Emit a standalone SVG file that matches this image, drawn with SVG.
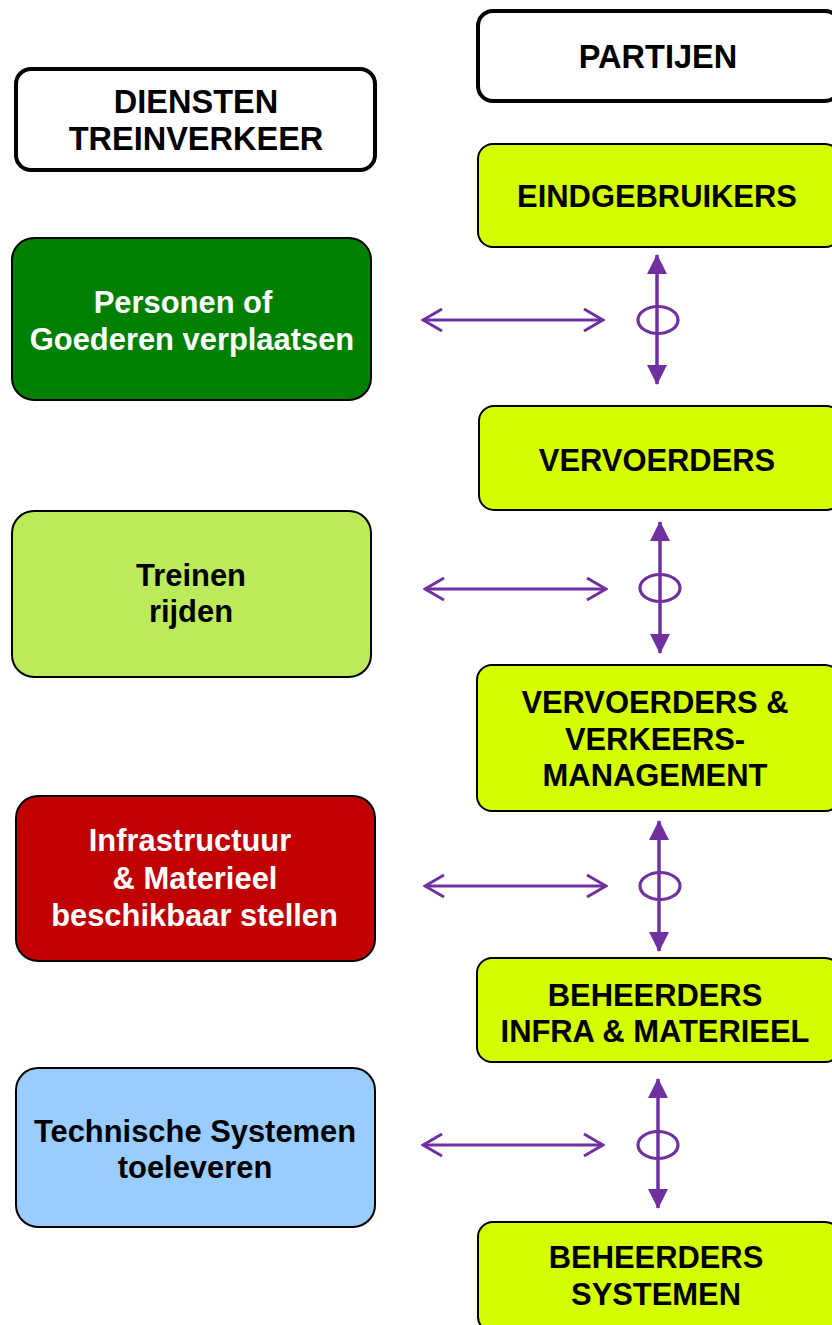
<svg xmlns="http://www.w3.org/2000/svg" width="832" height="1325" viewBox="0 0 832 1325">
<style>
.t{font-family:"Liberation Sans",Arial,sans-serif;font-weight:bold;font-size:30.9px;text-anchor:middle}
.t.big{font-size:32.5px}
.hdr{fill:#fff;stroke:#000;stroke-width:4}
.p{fill:#d4ff00;stroke:#000;stroke-width:2}
.d{stroke:#000;stroke-width:2}
.h{stroke:#7030a0;stroke-width:3;fill:none}
.v{stroke:#7030a0;stroke-width:3.5;fill:none}
.e{stroke:#7030a0;stroke-width:3.2;fill:none}
</style>
<defs>
<marker id="open" viewBox="0 0 22 26" refX="20" refY="13" markerWidth="22" markerHeight="26" markerUnits="userSpaceOnUse" orient="auto-start-reverse">
<path d="M1,2 L20,13 L1,24" fill="none" stroke="#7030a0" stroke-width="3"/>
</marker>
<marker id="tri" viewBox="0 0 20 20" refX="19" refY="10" markerWidth="20" markerHeight="20" markerUnits="userSpaceOnUse" orient="auto-start-reverse">
<path d="M0,0 L20,10 L0,20 Z" fill="#7030a0"/>
</marker>
</defs>
<g id="hdr-diensten"><rect class="hdr" x="16" y="69" width="359" height="101" rx="15"/><text class="t big" x="196" y="113">DIENSTEN</text><text class="t big" x="196" y="150">TREINVERKEER</text></g>
<g id="hdr-partijen"><rect class="hdr" x="478" y="11" width="362" height="90" rx="15"/><text class="t big" x="658" y="68">PARTIJEN</text></g>
<g id="eindgebruikers"><rect class="p" x="478" y="144" width="362" height="103" rx="15"/><text class="t" x="657" y="207">EINDGEBRUIKERS</text></g>
<g id="personen"><rect class="d" fill="#007f00" x="12" y="238" width="359" height="162" rx="22"/><text class="t" fill="#fff" x="183" y="313">Personen of</text><text class="t" fill="#fff" x="192" y="350">Goederen verplaatsen</text></g>
<g id="vervoerders"><rect class="p" x="479" y="406" width="362" height="104" rx="15"/><text class="t" x="657" y="471">VERVOERDERS</text></g>
<g id="treinen"><rect class="d" fill="#bbeb5b" x="12" y="511" width="359" height="166" rx="22"/><text class="t" x="191" y="586">Treinen</text><text class="t" x="191" y="622">rijden</text></g>
<g id="vervoerders-verkeer"><rect class="p" x="477" y="665" width="363" height="146" rx="15"/><text class="t" x="655" y="713">VERVOERDERS &amp;</text><text class="t" x="655" y="750">VERKEERS-</text><text class="t" x="655" y="786">MANAGEMENT</text></g>
<g id="infra"><rect class="d" fill="#c00000" x="16" y="796" width="359" height="165" rx="22"/><text class="t" fill="#fff" x="190" y="851">Infrastructuur</text><text class="t" fill="#fff" x="195" y="889">&amp; Materieel</text><text class="t" fill="#fff" x="194.5" y="926">beschikbaar stellen</text></g>
<g id="beheerders-infra"><rect class="p" x="477" y="958" width="363" height="104" rx="15"/><text class="t" x="655" y="1006">BEHEERDERS</text><text class="t" x="655" y="1042">INFRA &amp; MATERIEEL</text></g>
<g id="technische"><rect class="d" fill="#99ccff" x="16" y="1068" width="359" height="159" rx="22"/><text class="t" x="195" y="1142">Technische Systemen</text><text class="t" x="195" y="1178">toeleveren</text></g>
<g id="beheerders-systemen"><rect class="p" x="478" y="1222" width="362" height="110" rx="15"/><text class="t" x="656" y="1268">BEHEERDERS</text><text class="t" x="656" y="1305">SYSTEMEN</text></g>
<g id="connectors">
<line class="h" x1="423" y1="320" x2="603" y2="320" marker-start="url(#open)" marker-end="url(#open)"/>
<line class="v" x1="657" y1="255" x2="657" y2="384" marker-start="url(#tri)" marker-end="url(#tri)"/>
<ellipse class="e" cx="658" cy="320" rx="20" ry="13.5"/>
<line class="h" x1="425" y1="589" x2="606" y2="589" marker-start="url(#open)" marker-end="url(#open)"/>
<line class="v" x1="660" y1="522" x2="660" y2="653" marker-start="url(#tri)" marker-end="url(#tri)"/>
<ellipse class="e" cx="660" cy="588" rx="20" ry="13.5"/>
<line class="h" x1="425" y1="886" x2="606" y2="886" marker-start="url(#open)" marker-end="url(#open)"/>
<line class="v" x1="659" y1="821" x2="659" y2="951" marker-start="url(#tri)" marker-end="url(#tri)"/>
<ellipse class="e" cx="660" cy="886" rx="20" ry="13.5"/>
<line class="h" x1="423" y1="1145" x2="603" y2="1145" marker-start="url(#open)" marker-end="url(#open)"/>
<line class="v" x1="658" y1="1079" x2="658" y2="1208" marker-start="url(#tri)" marker-end="url(#tri)"/>
<ellipse class="e" cx="658" cy="1145" rx="20" ry="13.5"/>
</g>
</svg>
